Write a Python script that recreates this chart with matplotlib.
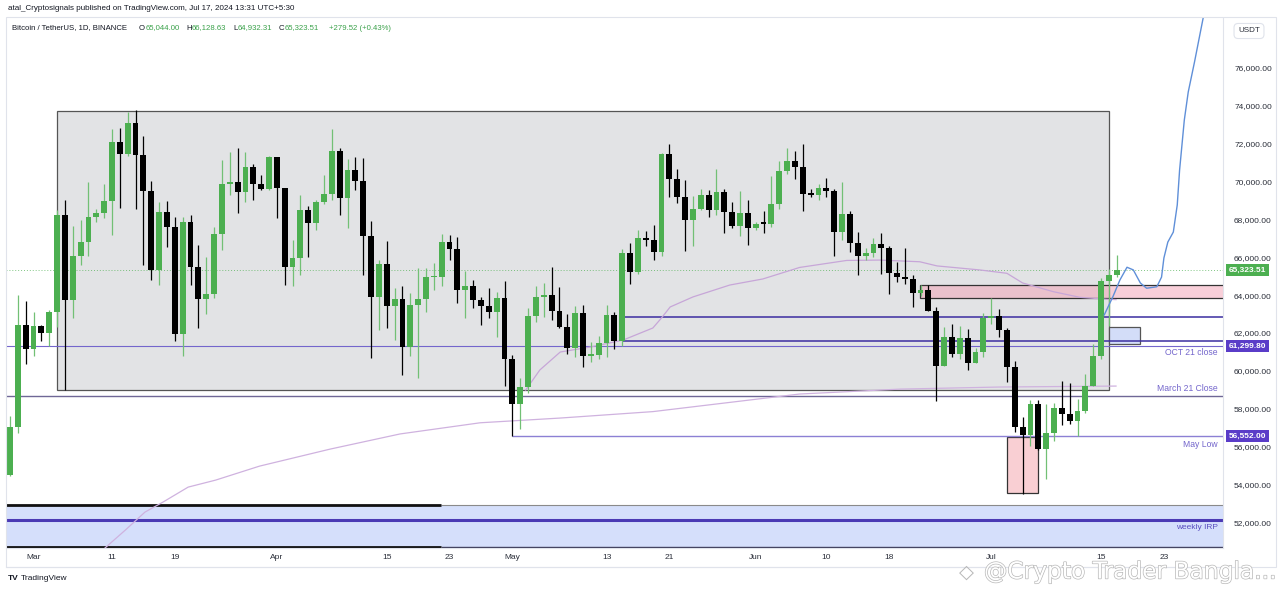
import matplotlib
matplotlib.use("Agg")
import matplotlib.pyplot as plt
import matplotlib.dates as mdates
import matplotlib.patheffects as pe
import matplotlib.transforms as mtransforms
from matplotlib.patches import Rectangle
import numpy as np
import pandas as pd

plt.rcParams['font.family'] = ['Liberation Sans', 'DejaVu Sans']

# ---------------- data ----------------
dates = pd.date_range("2024-02-27", "2024-07-17", freq="D")
opens = [54476, 57037, 62432, 61130, 62387, 61987, 63113, 68245, 63724, 66074, 66823, 68124, 68313, 68955,
         72078, 71452, 73072, 71388, 69500, 65300, 68393, 67609, 61937, 67840, 65501, 63796, 64037, 67211,
         69880, 69988, 69469, 70780, 69850, 69582, 71280, 69649, 65463, 65963, 68487, 67820, 68896, 69360,
         71620, 69146, 70631, 70006, 67116, 63924, 65661, 63419, 63793, 61277, 63470, 63818, 64941, 64966,
         66819, 66415, 64277, 64481, 63756, 63420, 63113, 63841, 60636, 58254, 59123, 62889, 63892, 64012,
         63165, 62313, 61194, 63074, 60799, 60825, 61483, 62940, 61577, 66206, 65235, 67024, 66915, 66274,
         71446, 70148, 69166, 67969, 68549, 69290, 68507, 69436, 68399, 67652, 68353, 67540, 67767, 67766,
         68810, 70567, 71082, 70757, 69342, 69305, 69648, 69508, 67314, 68263, 66773, 66043, 66228, 66676,
         66505, 65175, 64974, 64828, 64096, 64252, 63180, 60277, 61804, 60864, 61706, 60427, 60986, 62772,
         62900, 62135, 60208, 57050, 56628, 58231, 55857, 56714, 58051, 57725, 57339, 57889, 59204, 60797,
         64724, 65044]
highs = [57588, 64000, 63676, 63114, 62433, 63231, 68499, 69000, 67637, 67985, 69990, 68541, 69887, 72800,
         72850, 73650, 73777, 72419, 70043, 68904, 68956, 68124, 68100, 68240, 66650, 65999, 67622, 71150,
         71561, 71769, 71552, 70916, 70321, 71366, 71288, 69674, 66903, 69291, 68725, 69009, 70326, 72797,
         71758, 71172, 71305, 71227, 67931, 65840, 66867, 64365, 64499, 64125, 65450, 65419, 65695, 67232,
         67199, 67075, 65275, 64789, 63913, 64359, 64174, 64734, 60850, 59603, 63320, 64494, 64646, 65500,
         64422, 63020, 63421, 63469, 61515, 61818, 63450, 63118, 66444, 66752, 67451, 67400, 67700, 71515,
         71979, 70666, 70096, 69250, 69610, 69562, 70687, 69591, 68913, 69500, 69044, 67861, 68460, 70288,
         71063, 71758, 71625, 71997, 69582, 69887, 70195, 69591, 69999, 68449, 67315, 66478, 66998, 67298,
         66588, 65727, 66482, 65067, 64520, 64525, 63369, 62293, 62487, 62389, 62225, 61224, 63058, 63861,
         63288, 62285, 60498, 57546, 58475, 58472, 58236, 58296, 59470, 59359, 58526, 59850, 61420, 64900,
         65388, 66128]
lows = [54450, 56691, 60364, 60777, 61561, 61320, 62300, 59005, 62786, 65602, 66082, 67861, 68094, 67194,
        68620, 71333, 68555, 65600, 64780, 64534, 66565, 61555, 60775, 64529, 62260, 63000, 63825, 66385,
        69280, 68360, 68904, 69009, 69540, 69562, 68062, 64550, 64493, 65064, 66011, 67435, 68824, 69043,
        68210, 67518, 69567, 65086, 60660, 62134, 62274, 61600, 59768, 60775, 59600, 63090, 64278, 64500,
        65864, 63589, 62783, 63322, 62400, 62793, 61795, 59191, 56552, 56937, 58848, 62599, 62823, 62700,
        62261, 60888, 60750, 60187, 60487, 60632, 60749, 61142, 61319, 64602, 65106, 66600, 65857, 66060,
        69162, 68843, 66312, 66600, 68500, 68128, 68250, 67277, 67525, 67128, 66630, 67445, 67257, 67612,
        68567, 70383, 70119, 68420, 69184, 69018, 69172, 66051, 66906, 66251, 65078, 65839, 66034, 65131,
        64060, 64694, 64560, 63379, 63943, 63178, 58402, 60239, 60712, 60606, 60063, 60383, 60712, 62497,
        61807, 59400, 56771, 53485, 56018, 55793, 54260, 56289, 57157, 57178, 56542, 57757, 59204, 60632,
        62373, 64932]
closes = [57037, 62432, 61130, 62387, 61987, 63113, 68245, 63724, 66074, 66823, 68124, 68313, 68955, 72078,
          71452, 73072, 71388, 69500, 65300, 68393, 67609, 61937, 67840, 65501, 63796, 64037, 67211, 69880,
          69988, 69469, 70780, 69850, 69582, 71280, 69649, 65463, 65963, 68487, 67820, 68896, 69360, 71620,
          69146, 70631, 70006, 67116, 63924, 65661, 63419, 63793, 61277, 63470, 63818, 64941, 64966, 66819,
          66415, 64277, 64481, 63756, 63420, 63113, 63841, 60636, 58254, 59123, 62889, 63892, 64012, 63165,
          62313, 61194, 63074, 60799, 60825, 61483, 62940, 61577, 66206, 65235, 67024, 66915, 66274, 71446,
          70148, 69166, 67969, 68549, 69290, 68507, 69436, 68399, 67652, 68353, 67540, 67767, 67766, 68810,
          70567, 71082, 70757, 69342, 69305, 69648, 69508, 67314, 68263, 66773, 66043, 66228, 66676, 66505,
          65175, 64974, 64828, 64096, 64252, 63180, 60277, 61804, 60864, 61706, 60427, 60986, 62772, 62900,
          62135, 60208, 57050, 56628, 58231, 55857, 56714, 58051, 57725, 57339, 57889, 59204, 60797, 64724,
          65044, 65323.51]

# x-axis labels
xtick_dates = ["2024-03-01", "2024-03-11", "2024-03-19", "2024-04-01", "2024-04-15", "2024-04-23",
               "2024-05-01", "2024-05-13", "2024-05-21", "2024-06-01", "2024-06-10", "2024-06-18",
               "2024-07-01", "2024-07-15", "2024-07-23"]
xtick_labels = ["Mar", "11", "19", "Apr", "15", "23", "May", "13", "21", "Jun", "10", "18", "Jul", "15", "23"]
yticks = list(range(52000, 76001, 2000))

# header values
ohlc_letters = ["O", "H", "L", "C"]
ohlc_values = ["65,044.00", "66,128.63", "64,932.31", "65,323.51"]
change_text = "+279.52 (+0.43%)"

# levels / drawings
last_close = 65323.51
oct21_close = 61299.80
march21_close = 58680
may_low = 56552
range_box = dict(start="2024-03-04", end="2024-07-16", low=58980, high=73730)
level_upper = 62855
level_lower = 61571
levels_start = "2024-05-15"
pink_zone = dict(start="2024-06-21 22:00", low=63830, high=64510)
blue_box = dict(start="2024-07-16", end="2024-07-20", low=61400, high=62330)
july_box = dict(start="2024-07-03", end="2024-07-07", low=53520, high=56510)
irp_low, irp_high, irp_mid = 50680, 52900, 52110
irp_thick_end = "2024-04-21 22:00"

# indicator curves (days after 1 Mar 2024, value)
curve_days = [62.7, 64.5, 67.1, 70.9, 75.1, 78.9, 80.0, 81.1, 84.0, 88.7, 92.9, 97.6, 103.6, 107.8,
              112.9, 115.1, 120.5, 124.0, 126.0, 129.9, 133.3, 136.7, 137.9]
curve_vals = [58980, 60040, 60990, 61250, 61620, 62260, 62790, 63370, 63900, 64530, 64850, 65460, 65830,
              65850, 65760, 65540, 65330, 65150, 64640, 64180, 63880, 63780, 63760]
long_days = [8.1, 9.1, 11.7, 14.2, 16.5, 19.7, 23.2, 28.8, 37.8, 46.7, 56.9, 67.1, 78.9, 97.6, 110.4,
             123.1, 137.9]
long_vals = [50210, 50630, 51580, 52530, 53060, 53850, 54220, 54960, 55860, 56660, 57250, 57500, 57840,
             58770, 59030, 59140, 59190]
proj_days = [136.4, 137.5, 138.4, 139.3, 140.1, 141.0, 141.8, 143.1, 143.7, 144.0, 144.5, 145.2, 145.7,
             146.0, 146.6, 147.1, 147.9, 148.7, 149.1, 149.4]
proj_vals = [62950, 63910, 64800, 65470, 65330, 64640, 64360, 64440, 64950, 65960, 66800, 67330, 68760,
             70610, 73250, 74730, 76320, 78010, 78850, 79300]

# ---------------- figure ----------------
W, H = 1280, 592
fig = plt.figure(figsize=(W / 100, H / 100), dpi=100)
fig.patch.set_facecolor("white")

def fx(x):
    return x / W

def fy(y):
    return 1 - y / H

ax_left, ax_right, ax_top, ax_bottom = 6, 1223, 18, 548
ax = fig.add_axes([fx(ax_left), fy(ax_bottom), fx(ax_right - ax_left), (ax_bottom - ax_top) / H])
ax.set_facecolor("white")

mar1 = mdates.date2num(pd.Timestamp("2024-03-01"))
px_per_day = 7.85
ax.set_xlim(mar1 - (33.5 - ax_left) / px_per_day, mar1 + (ax_right - 33.5) / px_per_day)
ax.set_ylim(50632, 78643)
x0, x1 = ax.get_xlim()

GREEN = "#4caf50"
GREEN_WICK = "#72c075"
PURPLE = "#7466cc"
INDIGO = "#3b2da0"

def dn(s):
    return mdates.date2num(pd.Timestamp(s))

# range box
rb = Rectangle((dn(range_box["start"]), range_box["low"]), dn(range_box["end"]) - dn(range_box["start"]),
               range_box["high"] - range_box["low"], facecolor="#e2e3e5", edgecolor="#555555", lw=0.9, zorder=1)
ax.add_patch(rb)

# weekly IRP band
ax.add_patch(Rectangle((x0, irp_low), x1 - x0, irp_high - irp_low, facecolor="#d5dffb", edgecolor="none", zorder=1))
ax.hlines([irp_high], dn(irp_thick_end), x1, colors="#8a8a8a", lw=0.8, zorder=2)
ax.hlines([irp_low], dn(irp_thick_end), x1, colors="#3c3c5a", lw=1.0, zorder=2)
ax.hlines([irp_high, irp_low], x0, dn(irp_thick_end), colors="#111111", lw=2.0, zorder=2)
ax.hlines([irp_mid], x0, x1, colors="#4b3ab4", lw=2.2, zorder=2)

# pink zone
ax.add_patch(Rectangle((dn(pink_zone["start"]), pink_zone["low"]), x1 + 5 - dn(pink_zone["start"]),
                       pink_zone["high"] - pink_zone["low"], facecolor=(0.95, 0.63, 0.71, 0.5),
                       edgecolor="#333333", lw=0.9, zorder=2))
# july box
ax.add_patch(Rectangle((dn(july_box["start"]), july_box["low"]), dn(july_box["end"]) - dn(july_box["start"]),
                       july_box["high"] - july_box["low"], facecolor="#f9cfd3", edgecolor="#333333", lw=0.9, zorder=2))
# blue box
ax.add_patch(Rectangle((dn(blue_box["start"]), blue_box["low"]), dn(blue_box["end"]) - dn(blue_box["start"]),
                       blue_box["high"] - blue_box["low"], facecolor="#d3ddf8", edgecolor="#555555", lw=0.9, zorder=2))

# horizontal levels
ax.hlines([oct21_close], x0, x1, colors=PURPLE, lw=0.8, zorder=2)
ax.hlines([march21_close], x0, x1, colors="#6f6796", lw=1.0, zorder=2)
ax.hlines([may_low], dn("2024-05-01"), x1, colors="#8c80d4", lw=1.0, zorder=2)
ax.hlines([level_upper, level_lower], dn(levels_start), x1, colors=INDIGO, lw=1.1, zorder=2)
ax.hlines([last_close], x0, x1, colors=GREEN, lw=0.7, linestyles=(0, (1, 2)), alpha=0.7, zorder=2)

# curves
ax.plot(mar1 + np.array(curve_days), curve_vals, color="#c7a6d8", lw=0.9, zorder=3)
ax.plot(mar1 + np.array(long_days), long_vals, color="#cfb2df", lw=0.9, zorder=3)

# candles
xd = mdates.date2num(dates)
o = np.array(opens, float)
c = np.array(closes, float)
h = np.array(highs, float)
l = np.array(lows, float)
up = c >= o
wick_cols = [GREEN_WICK if u else "#000000" for u in up]
ax.vlines(xd, l, h, colors=wick_cols, lw=0.9, zorder=4)
body_bottom = np.minimum(o, c)
body_h = np.maximum(np.abs(c - o), 70)
ax.bar(xd, body_h, bottom=body_bottom, width=0.74, color=[GREEN if u else "#000000" for u in up],
       edgecolor="none", zorder=5)

# projection
ax.plot(mar1 + np.array(proj_days), proj_vals, color="#5f8fd8", lw=1.0, zorder=6)

# level texts
lab_x = 1 - 5 / (ax_right - ax_left)
trans_y = mtransforms.blended_transform_factory(ax.transAxes, ax.transData)
ax.text(lab_x, 60960, "OCT 21 close", transform=trans_y, ha="right", va="center", fontsize=6.2, color=PURPLE, zorder=7)
ax.text(lab_x, 59040, "March 21 Close", transform=trans_y, ha="right", va="center", fontsize=6.2, color=PURPLE, zorder=7)
ax.text(lab_x, 56110, "May Low", transform=trans_y, ha="right", va="center", fontsize=6.2, color=PURPLE, zorder=7)
ax.text(lab_x, 51720, "weekly IRP", transform=trans_y, ha="right", va="center", fontsize=6.0, color="#5a4ec0", zorder=7)

# axes styling
for s in ["top", "left"]:
    ax.spines[s].set_visible(False)
ax.spines["right"].set_color("#e0e3eb")
ax.spines["bottom"].set_color("#e0e3eb")
ax.yaxis.tick_right()
ax.set_yticks(yticks)
ax.set_yticklabels([f"{v:,.2f}" for v in yticks])
ax.tick_params(axis="y", length=0, pad=8, labelsize=6, labelcolor="#2a2e39")
ax.set_xticks([dn(d) for d in xtick_dates])
ax.set_xticklabels(xtick_labels)
ax.tick_params(axis="x", length=0, pad=4, labelsize=6, labelcolor="#2a2e39")

# price labels on axis
for val, txt, col in [(last_close, "65,323.51", "#4caf50"), (oct21_close, "61,299.80", "#5a3cc8"),
                      (may_low, "56,552.00", "#5a3cc8")]:
    ax.text(1 + 6 / (ax_right - ax_left), val, txt, transform=trans_y, ha="left", va="center", fontsize=6,
            color="white", fontweight="bold", clip_on=False, zorder=10,
            bbox=dict(boxstyle="square,pad=0.3", facecolor=col, edgecolor="none"))

# frame lines
fig.add_artist(Rectangle((fx(6), fy(567)), fx(1276 - 6), (567 - 17) / H, transform=fig.transFigure,
                         fill=False, edgecolor="#e0e3eb", lw=0.8))
fig.add_artist(plt.Line2D([fx(6), fx(1223)], [fy(567), fy(567)], color="#e0e3eb", lw=0.8))

# USDT box
fig.text(fx(1249), fy(31), "USDT", ha="center", va="center", fontsize=5.8, color="#2a2e39",
         bbox=dict(boxstyle="round,pad=0.5", facecolor="white", edgecolor="#e0e3eb", lw=0.8))

# header
fig.text(fx(8), fy(9), "atal_Cryptosignals published on TradingView.com, Jul 17, 2024 13:31 UTC+5:30",
         ha="left", va="center", fontsize=5.8, color="#131722")
fig.text(fx(12), fy(28), "Bitcoin / TetherUS, 1D, BINANCE", ha="left", va="center", fontsize=5.6, color="#131722")
HG = "#3aa14a"
for lx, letter, val in zip([139, 186, 233, 279], ohlc_letters, ohlc_values):
    lt = fig.text(fx(lx), fy(28), letter, ha="left", va="center", fontsize=5.6, color="#131722")
    ax.annotate(val, xy=(1, 0.5), xycoords=lt, xytext=(0.3, 0), textcoords="offset points",
                ha="left", va="center", fontsize=5.6, color=HG, annotation_clip=False)
fig.text(fx(329), fy(28), change_text, ha="left", va="center", fontsize=5.6, color=HG)

# footer logo
fig.text(fx(8), fy(579), "TV", ha="left", va="center", fontsize=6, color="#131722", fontweight="bold")
fig.text(fx(21), fy(579), "TradingView", ha="left", va="center", fontsize=6, color="#131722")

# watermark
fig.text(fx(984), fy(572), "@Crypto Trader Bangla...", ha="left", va="center", fontsize=16.8, color="white",
         family="DejaVu Sans",
         path_effects=[pe.withStroke(linewidth=1.0, foreground="#b8b8b8")], zorder=20)
fig.text(fx(966), fy(572), "\u25C7", ha="center", va="center", fontsize=14, color="#b8b8b8",
         family="DejaVu Sans", zorder=20)

fig.savefig("out.png", dpi=100, facecolor="white")
